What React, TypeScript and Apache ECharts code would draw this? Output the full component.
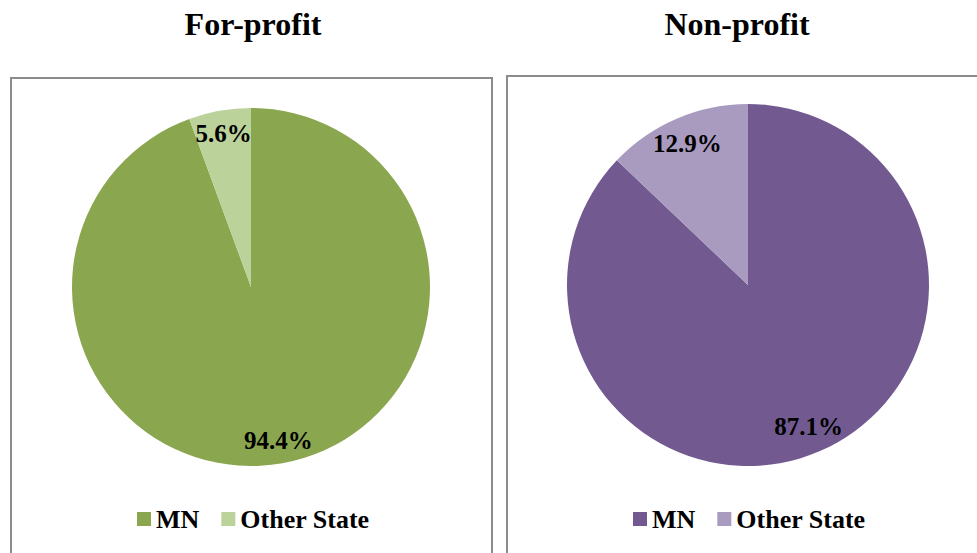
import React, { useEffect, useRef } from "react";
import * as echarts from "echarts";

const categories = ["MN", "Other State"];
const forProfitValues = [94.4, 5.6];
const nonProfitValues = [87.1, 12.9];
const titles = ["For-profit", "Non-profit"];
const forProfitColors = ["#8AA64E", "#BBD29A"];
const nonProfitColors = ["#725A91", "#A99BBF"];

const SERIF = "Liberation Serif";

type PanelCfg = {
  title: string;
  titleX: number;
  values: number[];
  colors: string[];
  cx: number;
  cy: number;
  r: number;
  labelInner: number;
  boxX: number;
  boxY: number;
  boxW: number;
  legendLeft: number;
};

function buildOption(p: PanelCfg) {
  const data = categories.map((c, i) => ({ name: c, value: p.values[i], itemStyle: { color: p.colors[i] } }));
  const labelData = categories.map((c, i) => ({ name: c + " label", value: p.values[i] }));
  return {
    animation: false,
    textStyle: { fontFamily: SERIF },
    title: {
      text: p.title,
      left: p.titleX,
      top: 8,
      padding: 0,
      textAlign: "center",
      textStyle: { fontFamily: SERIF, fontSize: 32, fontWeight: "bold", color: "#000" },
    },
    graphic: [
      {
        type: "rect",
        shape: { x: p.boxX, y: p.boxY, width: p.boxW, height: 600 },
        style: { fill: "none", stroke: "#8C8C8C", lineWidth: 2 },
        silent: true,
        z: 0,
      },
    ],
    legend: {
      data: categories,
      left: p.legendLeft,
      top: 506,
      padding: 0,
      icon: "rect",
      itemWidth: 14,
      itemHeight: 14,
      itemGap: 22,
      textStyle: { fontFamily: SERIF, fontSize: 26, fontWeight: "bold", color: "#000" },
      selectedMode: false,
    },
    series: [
      {
        type: "pie",
        center: [p.cx, p.cy],
        radius: [0, p.r],
        startAngle: 90,
        clockwise: true,
        data,
        label: { show: false },
        labelLine: { show: false },
        itemStyle: { borderWidth: 0 },
        silent: true,
      },
      {
        type: "pie",
        center: [p.cx, p.cy],
        radius: [p.labelInner, p.r],
        startAngle: 90,
        clockwise: true,
        data: labelData,
        itemStyle: { color: "rgba(0,0,0,0)", borderWidth: 0 },
        label: {
          show: true,
          position: "inside",
          formatter: (prm: any) => prm.value.toFixed(1) + "%",
          fontFamily: SERIF,
          fontSize: 25,
          fontWeight: "bold",
          color: "#000",
        },
        labelLine: { show: false },
        silent: true,
      },
    ],
  };
}

function Panel({ left, width, cfg }: { left: number; width: number; cfg: PanelCfg }) {
  const ref = useRef<HTMLDivElement>(null);
  useEffect(() => {
    if (!ref.current) return;
    const chart = echarts.init(ref.current, undefined, { renderer: "svg" });
    chart.setOption(buildOption(cfg) as any);
    return () => chart.dispose();
  }, []);
  return <div ref={ref} style={{ position: "absolute", left, top: 0, width, height: 553 }} />;
}

export default function App() {
  const leftCfg: PanelCfg = {
    title: titles[0],
    titleX: 253,
    values: forProfitValues,
    colors: forProfitColors,
    cx: 251,
    cy: 287,
    r: 179,
    labelInner: 127,
    boxX: 11,
    boxY: 78,
    boxW: 481,
    legendLeft: 137,
  };
  const rightCfg: PanelCfg = {
    title: titles[1],
    titleX: 240,
    values: nonProfitValues,
    colors: nonProfitColors,
    cx: 251,
    cy: 285,
    r: 181,
    labelInner: 121,
    boxX: 10,
    boxY: 76,
    boxW: 600,
    legendLeft: 136,
  };
  return (
    <div style={{ position: "absolute", left: 0, top: 0, width: 977, height: 553, overflow: "hidden", background: "#fff" }}>
      <Panel left={0} width={497} cfg={leftCfg} />
      <Panel left={497} width={480} cfg={rightCfg} />
    </div>
  );
}
